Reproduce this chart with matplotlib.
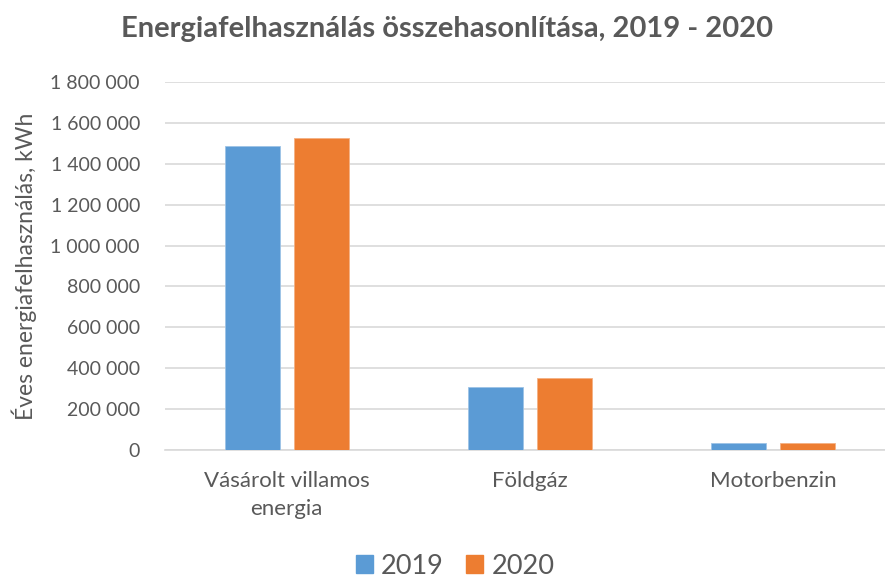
import numpy as np
import matplotlib
matplotlib.use("Agg")
import matplotlib.pyplot as plt
from matplotlib.ticker import FuncFormatter
from matplotlib.patches import Patch

categories = ["Vásárolt villamos\nenergia", "Földgáz", "Motorbenzin"]
years = ["2019", "2020"]
values_2019 = [1488000, 307000, 33000]
values_2020 = [1527000, 351000, 33000]
yticks = list(range(0, 1800001, 200000))

colors = ["#5B9BD5", "#ED7D31"]
grey = "#595959"

plt.rcParams["font.family"] = ["Lato", "DejaVu Sans"]

fig = plt.figure(figsize=(8.85, 5.77), dpi=100)
ax = fig.add_axes([165 / 885, 1 - 450 / 577, 730 / 885, 368 / 577])

x = np.arange(len(categories))
width = 0.226
offset = 0.142
ax.bar(x - offset, values_2019, width, color=colors[0], edgecolor="#9DC3E6", linewidth=0.6, zorder=3)
ax.bar(x + offset, values_2020, width, color=colors[1], edgecolor="#F4B183", linewidth=0.6, zorder=3)

ax.set_xlim(-0.5, len(categories) - 0.5)
ax.set_ylim(0, 1800000)
ax.set_yticks(yticks)
ax.yaxis.set_major_formatter(FuncFormatter(lambda v, p: f"{int(v):,}".replace(",", " ")))
ax.grid(axis="y", color="#D9D9D9", linewidth=1.2, zorder=0)
for s in ["top", "right", "left"]:
    ax.spines[s].set_visible(False)
ax.spines["bottom"].set_color("#D9D9D9")
ax.spines["bottom"].set_linewidth(1.2)
ax.tick_params(axis="both", length=0, colors=grey)
ax.tick_params(axis="y", pad=18, labelsize=14)
ax.tick_params(axis="x", pad=15, labelsize=16)
ax.set_xticks(x)
ax.set_xticklabels(categories, linespacing=1.5)

ax.set_ylabel("Éves energiafelhasználás, kWh", fontsize=16.5, color=grey)
ax.yaxis.set_label_coords(-128 / 730, 0.5)

fig.text(447 / 885, 1 - 29 / 577, "Energiafelhasználás összehasonlítása, 2019 - 2020",
         ha="center", va="center", fontsize=21, fontweight="bold", color=grey)

handles = [Patch(color=c) for c in colors]
fig.legend(handles, years, loc="center", bbox_to_anchor=(455 / 885, 1 - 566 / 577),
           ncol=2, frameon=False, fontsize=19.5, labelcolor=grey,
           handlelength=0.65, handleheight=0.65, handletextpad=0.3, columnspacing=0.8)

fig.savefig("out.png", dpi=100)
